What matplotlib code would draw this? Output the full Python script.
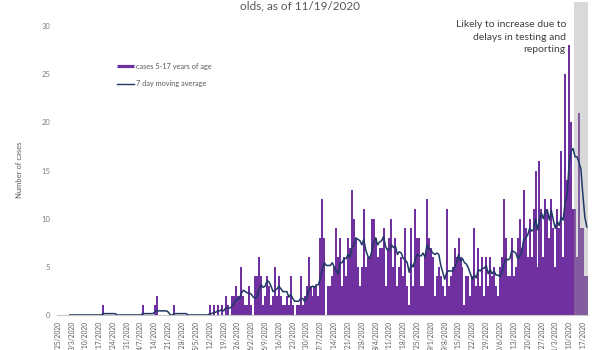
import matplotlib
matplotlib.use("Agg")
import matplotlib.pyplot as plt
from matplotlib.lines import Line2D
import pandas as pd

# ---------------- data ----------------
start_date = "2020-02-25"
end_date = "2020-11-19"
shade_start = "2020-11-13"   # last 7 days, likely incomplete

cases = [
    0, 0, 0, 0, 0, 0, 0,
    0, 0, 0, 0, 0, 0, 0,
    0, 0, 0, 0, 0, 0, 0,
    0, 0, 1, 0, 0, 0, 0,
    0, 0, 0, 0, 0, 0, 0,
    0, 0, 0, 0, 0, 0, 0,
    0, 1, 0, 0, 0, 0, 0,
    1, 2, 0, 0, 0, 0, 0,
    0, 0, 0, 1, 0, 0, 0,
    0, 0, 0, 0, 0, 0, 0,
    0, 0, 0, 0, 0, 0, 0,
    1, 0, 1, 0, 1, 0, 1,
    0, 2, 1, 0, 2, 2, 3,
    2, 2, 5, 2, 1, 1, 3,
    1, 0, 4, 4, 6, 4, 1,
    2, 4, 3, 1, 2, 5, 2,
    4, 2, 1, 1, 2, 1, 4,
    1, 0, 1, 1, 4, 1, 2,
    3, 6, 3, 2, 3, 3, 2,
    8, 12, 8, 0, 3, 3, 4,
    5, 9, 6, 8, 3, 6, 4,
    8, 7, 13, 10, 8, 5, 3,
    5, 11, 5, 6, 6, 10, 10,
    8, 6, 7, 7, 9, 3, 7,
    8, 10, 5, 8, 3, 5, 6,
    4, 9, 3, 1, 9, 3, 11,
    8, 8, 3, 3, 6, 12, 8,
    7, 6, 2, 4, 5, 4, 3,
    2, 11, 3, 4, 5, 7, 6,
    8, 6, 5, 1, 4, 4, 2,
    4, 9, 3, 7, 3, 6, 2,
    6, 3, 6, 4, 5, 3, 2,
    5, 6, 12, 8, 4, 4, 8,
    4, 5, 8, 10, 7, 13, 9,
    6, 10, 6, 11, 15, 5, 16,
    11, 6, 12, 11, 8, 12, 9,
    5, 11, 9, 17, 6, 25, 14,
    28, 20, 11, 11, 6, 21, 9,
    9, 4, 4,
]

legend_labels = ["cases 5-17 years of age", "7 day moving average"]
title_fragment = "olds, as of 11/19/2020"
note_text = "Likely to increase due to\ndelays in testing and\nreporting"
y_label = "Number of cases"
y_ticks = [0, 5, 10, 15, 20, 25, 30]

# ---------------- style ----------------
PURPLE = "#7030A0"
NAVY = "#1F3864"
TXT = "#595959"
plt.rcParams["font.family"] = ["Lato", "DejaVu Sans"]

dates = pd.date_range(start_date, end_date, freq="D")
series = pd.Series(cases, index=dates)
moving_avg = series.rolling(7).mean()

W, H = 600, 350
fig = plt.figure(figsize=(6, 3.5), dpi=100)
left_px, right_px, top_px, bottom_px = 57, 588, 2, 315
ax = fig.add_axes([left_px / W, 1 - bottom_px / H,
                   (right_px - left_px) / W, (bottom_px - top_px) / H])

ax.bar(dates, series.values, width=1.0, color=PURPLE, linewidth=0, zorder=2)
ax.axvspan(pd.Timestamp(shade_start) - pd.Timedelta(hours=12),
           dates[-1] + pd.Timedelta(hours=12),
           color="#a0a0a0", alpha=0.4, lw=0, zorder=2.5)
ax.plot(dates, moving_avg.values, color=NAVY, lw=1.1, zorder=3)

ax.set_xlim(dates[0] - pd.Timedelta(hours=11), dates[-1] + pd.Timedelta(hours=14))
ax.set_ylim(0, 32.5)

for s in ["top", "right", "left"]:
    ax.spines[s].set_visible(False)
ax.spines["bottom"].set_color("#c8c8c8")
ax.spines["bottom"].set_linewidth(0.8)

ax.set_yticks(y_ticks)
ax.set_yticklabels([str(v) for v in y_ticks])
ax.tick_params(axis="y", length=0, pad=5, labelsize=5.5, labelcolor="#7f7f7f")

tick_dates = dates[::7]
ax.set_xticks(tick_dates)
ax.set_xticklabels([f"{d.month}/{d.day}/{d.year}" for d in tick_dates],
                   rotation=90, fontsize=4.8, color=TXT)
ax.tick_params(axis="x", length=0, pad=4.5)

fig.text(20 / W, 1 - 170 / H, y_label, rotation=90, ha="center", va="center",
         fontsize=5.5, color=TXT)

# title fragment (top of figure cut off)
fig.text(300 / W, 1 - 9 / H, title_fragment, ha="center", va="baseline",
         fontsize=8.5, color=TXT)

# annotation
fig.text(566 / W, 1 - 20 / H, note_text, ha="right", va="top",
         fontsize=7.5, color="#404040", linespacing=1.5)

# manual legend
fig.add_artist(Line2D([117 / W, 134 / W], [1 - 66 / H, 1 - 66 / H],
                      color=PURPLE, lw=2.3, solid_capstyle="butt"))
fig.text(136.5 / W, 1 - 66 / H, legend_labels[0], ha="left", va="center",
         fontsize=5.3, color=TXT)
fig.add_artist(Line2D([117 / W, 134 / W], [1 - 83.5 / H, 1 - 83.5 / H],
                      color=NAVY, lw=1.0))
fig.text(136.5 / W, 1 - 83.5 / H, legend_labels[1], ha="left", va="center",
         fontsize=5.3, color=TXT)

fig.savefig("out.png", dpi=100)
